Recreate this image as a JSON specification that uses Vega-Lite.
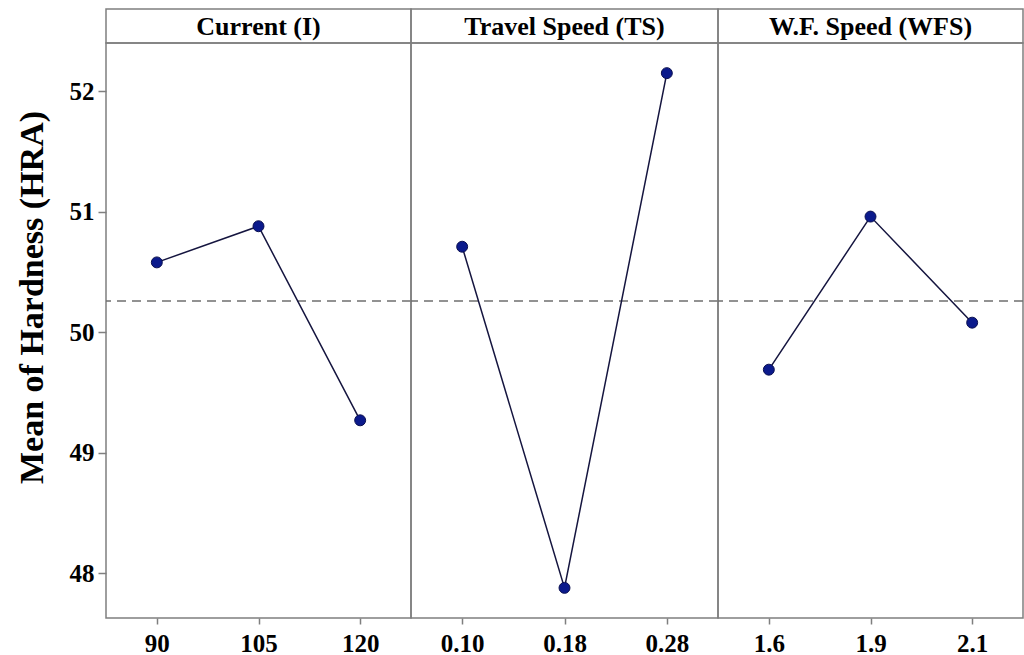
{
  "$schema": "https://vega.github.io/schema/vega-lite/v6.json",
  "padding": {"left": 14, "top": 8, "right": 0, "bottom": 0},
  "background": "white",
  "config": {
    "font": "Liberation Serif",
    "view": {"stroke": "#7f7f7f", "strokeWidth": 1.5},
    "concat": {"spacing": 0},
    "axisX": {"title": null, "labelAngle": 0, "labelFont": "Liberation Serif", "labelFontSize": 25, "labelFontWeight": "bold", "labelColor": "black", "tickColor": "#7f7f7f", "tickSize": 6, "tickWidth": 1.5, "labelPadding": 7, "domain": false}
  },
  "datasets": {
    "pts": [
      {"panel": "I", "level": "90", "hardness": 50.58},
      {"panel": "I", "level": "105", "hardness": 50.88},
      {"panel": "I", "level": "120", "hardness": 49.27},
      {"panel": "TS", "level": "0.10", "hardness": 50.71},
      {"panel": "TS", "level": "0.18", "hardness": 47.88},
      {"panel": "TS", "level": "0.28", "hardness": 52.15},
      {"panel": "WFS", "level": "1.6", "hardness": 49.69},
      {"panel": "WFS", "level": "1.9", "hardness": 50.96},
      {"panel": "WFS", "level": "2.1", "hardness": 50.08}
    ],
    "mean": [{"m": 50.26}],
    "heads": [
      {"panel": "I", "t": "Current (I)"},
      {"panel": "TS", "t": "Travel Speed (TS)"},
      {"panel": "WFS", "t": "W.F. Speed (WFS)"}
    ]
  },
  "columns": 3,
  "bounds": "flush",
  "concat": [
    {"width": 305, "height": 34, "data": {"name": "heads"}, "transform": [{"filter": "datum.panel === 'I'"}],
     "layer": [
       {"mark": {"type": "rect", "fill": null, "stroke": "#7f7f7f", "strokeWidth": 1.5}, "encoding": {}},
       {"mark": {"type": "text", "fontSize": 26, "fontWeight": "bold", "baseline": "middle", "align": "center", "color": "black", "dy": 1}, "encoding": {"text": {"field": "t"}}}
     ]},
    {"width": 307, "height": 34, "data": {"name": "heads"}, "transform": [{"filter": "datum.panel === 'TS'"}],
     "layer": [
       {"mark": {"type": "rect", "fill": null, "stroke": "#7f7f7f", "strokeWidth": 1.5}, "encoding": {}},
       {"mark": {"type": "text", "fontSize": 26, "fontWeight": "bold", "baseline": "middle", "align": "center", "color": "black", "dy": 1}, "encoding": {"text": {"field": "t"}}}
     ]},
    {"width": 305, "height": 34, "data": {"name": "heads"}, "transform": [{"filter": "datum.panel === 'WFS'"}],
     "layer": [
       {"mark": {"type": "rect", "fill": null, "stroke": "#7f7f7f", "strokeWidth": 1.5}, "encoding": {}},
       {"mark": {"type": "text", "fontSize": 26, "fontWeight": "bold", "baseline": "middle", "align": "center", "color": "black", "dy": 1}, "encoding": {"text": {"field": "t"}}}
     ]},
    {
      "width": 305, "height": 575,
      "layer": [
        {"data": {"name": "mean"}, "mark": {"type": "rule", "color": "#6f6f6f", "strokeWidth": 1.5, "strokeDash": [9, 6]},
         "encoding": {"y": {"field": "m", "type": "quantitative", "scale": {"domain": [47.63, 52.4], "nice": false, "zero": false}}}},
        {"data": {"name": "pts"}, "transform": [{"filter": "datum.panel === 'I'"}],
         "mark": {"type": "line", "color": "#15153f", "strokeWidth": 1.5, "point": {"filled": true, "size": 120, "color": "#0b1a8c", "stroke": "#0a0f50", "strokeWidth": 1}},
         "encoding": {
           "x": {"field": "level", "type": "ordinal", "sort": null, "scale": {"type": "point", "padding": 0.5}},
           "y": {"field": "hardness", "type": "quantitative", "scale": {"domain": [47.63, 52.4], "nice": false, "zero": false},
                 "axis": {"title": "Mean of Hardness  (HRA)", "values": [48, 49, 50, 51, 52], "format": "d", "grid": false, "domain": false,
                          "titleFont": "Liberation Serif", "titleFontSize": 34, "titleFontWeight": "bold", "titleColor": "black",
                          "titleX": -64, "titleY": 254, "titleBaseline": "alphabetic", "titleAlign": "center", "titleAngle": -90,
                          "labelFont": "Liberation Serif", "labelFontSize": 25, "labelFontWeight": "bold", "labelColor": "black",
                          "tickColor": "#7f7f7f", "tickSize": 8, "tickWidth": 1.5, "labelPadding": 4}}
         }}
      ]
    },
    {
      "width": 307, "height": 575,
      "layer": [
        {"data": {"name": "mean"}, "mark": {"type": "rule", "color": "#6f6f6f", "strokeWidth": 1.5, "strokeDash": [9, 6]},
         "encoding": {"y": {"field": "m", "type": "quantitative", "scale": {"domain": [47.63, 52.4], "nice": false, "zero": false}, "axis": null}}},
        {"data": {"name": "pts"}, "transform": [{"filter": "datum.panel === 'TS'"}],
         "mark": {"type": "line", "color": "#15153f", "strokeWidth": 1.5, "point": {"filled": true, "size": 120, "color": "#0b1a8c", "stroke": "#0a0f50", "strokeWidth": 1}},
         "encoding": {
           "x": {"field": "level", "type": "ordinal", "sort": null, "scale": {"type": "point", "padding": 0.5}},
           "y": {"field": "hardness", "type": "quantitative", "scale": {"domain": [47.63, 52.4], "nice": false, "zero": false}, "axis": null}
         }}
      ]
    },
    {
      "width": 305, "height": 575,
      "layer": [
        {"data": {"name": "mean"}, "mark": {"type": "rule", "color": "#6f6f6f", "strokeWidth": 1.5, "strokeDash": [9, 6]},
         "encoding": {"y": {"field": "m", "type": "quantitative", "scale": {"domain": [47.63, 52.4], "nice": false, "zero": false}, "axis": null}}},
        {"data": {"name": "pts"}, "transform": [{"filter": "datum.panel === 'WFS'"}],
         "mark": {"type": "line", "color": "#15153f", "strokeWidth": 1.5, "point": {"filled": true, "size": 120, "color": "#0b1a8c", "stroke": "#0a0f50", "strokeWidth": 1}},
         "encoding": {
           "x": {"field": "level", "type": "ordinal", "sort": null, "scale": {"type": "point", "padding": 0.5}},
           "y": {"field": "hardness", "type": "quantitative", "scale": {"domain": [47.63, 52.4], "nice": false, "zero": false}, "axis": null}
         }}
      ]
    }
  ],
  "resolve": {"scale": {"x": "independent", "y": "independent"}}
}
